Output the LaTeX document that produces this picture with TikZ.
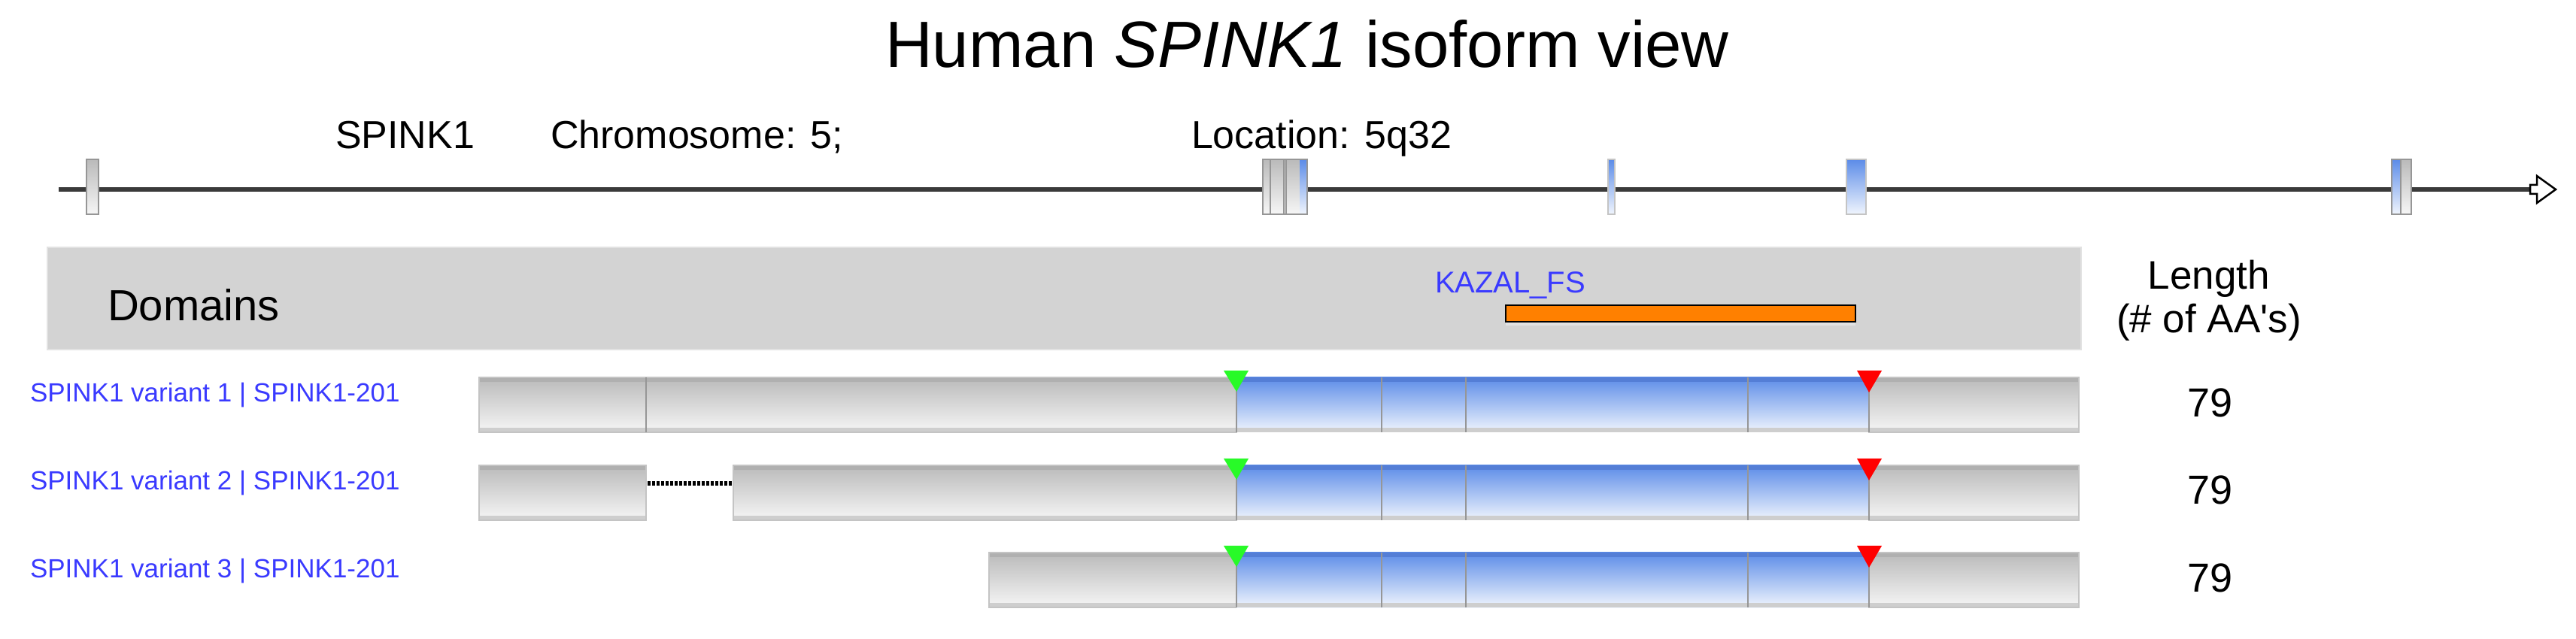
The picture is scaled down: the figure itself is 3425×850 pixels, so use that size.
\documentclass[tikz,border=0pt]{standalone}
\usepackage{fontspec}
\setmainfont{Liberation Sans}[Ligatures=TeXOff]
\definecolor{gtop}{RGB}{186,186,186}
\definecolor{gmid}{RGB}{214,214,214}
\definecolor{gbot}{RGB}{246,246,246}
\definecolor{gband}{RGB}{176,176,176}
\definecolor{gbandb}{RGB}{206,206,206}
\definecolor{btop}{RGB}{92,140,232}
\definecolor{bmid}{RGB}{160,188,240}
\definecolor{bbot}{RGB}{240,245,253}
\definecolor{bband}{RGB}{84,126,214}
\definecolor{edgec}{RGB}{196,196,196}
\definecolor{divc}{RGB}{150,150,150}
\definecolor{dombg}{RGB}{211,211,211}
\definecolor{domedge}{RGB}{226,226,226}
\definecolor{linkblue}{RGB}{58,58,255}
\definecolor{kazal}{RGB}{255,128,0}
\definecolor{startg}{RGB}{40,250,40}
\definecolor{stopr}{RGB}{255,0,0}
\definecolor{geneline}{RGB}{58,58,58}
\newcommand\setfs[1]{\fontsize{#1}{#1}\selectfont}
% gray segment: x1, x2, ytop
\newcommand\grayseg[3]{%
  \shade[top color=gtop, middle color=gmid, bottom color=gbot] (#1,#3) rectangle (#2,#3+73);
  \fill[gband] (#1,#3) rectangle (#2,#3+6);
  \fill[gbandb] (#1,#3+67) rectangle (#2,#3+73);
  \draw[edgec, line width=0.3pt] (#1,#3) rectangle (#2,#3+73);}
\newcommand\blueseg[3]{%
  \shade[top color=btop, middle color=bmid, bottom color=bbot] (#1,#3) rectangle (#2,#3+73);
  \fill[bband] (#1,#3) rectangle (#2,#3+6);
  \fill[gbandb] (#1,#3+67) rectangle (#2,#3+73);}
\newcommand\divline[2]{\draw[divc, line width=0.4pt] (#1,#2) -- (#1,#2+73);}
% exon on gene line
\newcommand\gexon[2]{%
  \shade[top color=gtop, middle color=gmid, bottom color=gbot] (#1,212) rectangle (#2,285);
  \draw[divc, line width=0.4pt] (#1,212) rectangle (#2,285);}
\newcommand\bexon[2]{%
  \shade[top color=btop, middle color=bmid, bottom color=bbot] (#1,212) rectangle (#2,285);
  \draw[edgec, line width=0.3pt] (#1,212) rectangle (#2,285);}
\tikzset{
  lbl/.style={inner sep=0pt, outer sep=0pt},
  rowlbl/.style={lbl, anchor=base west, text=linkblue, font=\setfs{7}},
  lenlbl/.style={lbl, anchor=base, font=\setfs{10.8}},
  startmark/.style={fill=startg},
  stopmark/.style={fill=stopr},
  intron/.style={black, line width=1.2pt, dash pattern=on 0.8pt off 0.4pt},
}
\begin{document}
\begin{tikzpicture}[x=0.2pt,y=-0.2pt]
\useasboundingbox (0,0) rectangle (3425,850);
\fill[white] (0,0) rectangle (3425,850);

% title
\node[lbl, anchor=base, font=\setfs{17.4}] (title) at (1738,90) {Human \textit{SPINK1} isoform view};

% gene info
\node[lbl, anchor=base west, font=\setfs{10.4}] (gname) at (446,198) {SPINK1};
\node[lbl, anchor=base west, font=\setfs{10.4}] (chrom) at (732,198) {Chromosome: 5;};
\node[lbl, anchor=base west, font=\setfs{10.4}] (loc) at (1584,198) {Location: 5q32};

% gene line
\coordinate (gstart) at (78,252);
\coordinate (gend) at (3364,252);
\draw[geneline, line width=1.2pt] (gstart) -- (gend);
\draw[black, line width=0.5pt, fill=white] (3364,246) -- (3373,246) -- (3373,234) -- (3398,252) -- (3373,270) -- (3373,258) -- (3364,258) -- cycle;
\gexon{115}{131}
\gexon{1679}{1738}
\draw[divc, line width=0.4pt] (1689,212) -- (1689,285);
\draw[divc, line width=0.4pt] (1707,212) -- (1707,285);
\draw[divc, line width=0.4pt] (1710,212) -- (1710,285);
\shade[top color=btop, middle color=bmid, bottom color=bbot] (1728,212) rectangle (1738,285);
\draw[divc, line width=0.4pt] (1679,212) rectangle (1738,285);
\bexon{2138}{2147}
\bexon{2455}{2481}
\gexon{3180}{3206}
\shade[top color=btop, middle color=bmid, bottom color=bbot] (3180,212) rectangle (3192,285);
\draw[divc, line width=0.4pt] (3192,212) -- (3192,285);
\draw[divc, line width=0.4pt] (3180,212) rectangle (3206,285);

% domains band
\fill[dombg] (63,329) rectangle (2767,465);
\draw[domedge, line width=0.4pt] (63,329) rectangle (2767,465);
\node[lbl, anchor=base west, font=\setfs{11.6}] (domains) at (143,427) {Domains};
\node[lbl, anchor=base west, text=linkblue, font=\setfs{8}] (kazal) at (1908,390) {KAZAL\_FS};
\fill[domedge] (2002,428) rectangle (2467,433);
\draw[black, line width=0.5pt, fill=kazal] (2002,406) rectangle (2467,428);

% length header
\node[lbl, anchor=base, font=\setfs{10.6}] (lenh1) at (2937,385) {Length};
\node[lbl, anchor=base, font=\setfs{10.6}] (lenh2) at (2937,443) {(\# of AA's)};

% row 1
\node[rowlbl] (lab1) at (40,535) {SPINK1 variant 1 | SPINK1-201};
\grayseg{637}{859}{502}
\grayseg{859}{1644}{502}
\blueseg{1644}{2485}{502}
\grayseg{2485}{2764}{502}
\foreach \x in {859,1644,1837,1949,2324,2485} {\divline{\x}{502}}
\node[lenlbl] (len1) at (2938,555) {79};

% row 2
\node[rowlbl] (lab2) at (40,652) {SPINK1 variant 2 | SPINK1-201};
\grayseg{637}{859}{619}
\grayseg{975}{1644}{619}
\blueseg{1644}{2485}{619}
\grayseg{2485}{2764}{619}
\foreach \x in {1644,1837,1949,2324,2485} {\divline{\x}{619}}
\coordinate (i2a) at (861,643);
\coordinate (i2b) at (973,643);
\draw[intron] (i2a) -- (i2b);
\node[lenlbl] (len2) at (2938,671) {79};

% row 3
\node[rowlbl] (lab3) at (40,768) {SPINK1 variant 3 | SPINK1-201};
\grayseg{1315}{1644}{735}
\blueseg{1644}{2485}{735}
\grayseg{2485}{2764}{735}
\foreach \x in {1644,1837,1949,2324,2485} {\divline{\x}{735}}
\node[lenlbl] (len3) at (2938,787) {79};

% start / stop markers
\foreach \y in {502,619,735} {
  \fill[startmark] (1627,\y-9) -- (1660,\y-9) -- (1644,\y+19) -- cycle;
  \fill[stopmark] (2469,\y-9) -- (2502,\y-9) -- (2485,\y+20) -- cycle;
}
\end{tikzpicture}
\end{document}
